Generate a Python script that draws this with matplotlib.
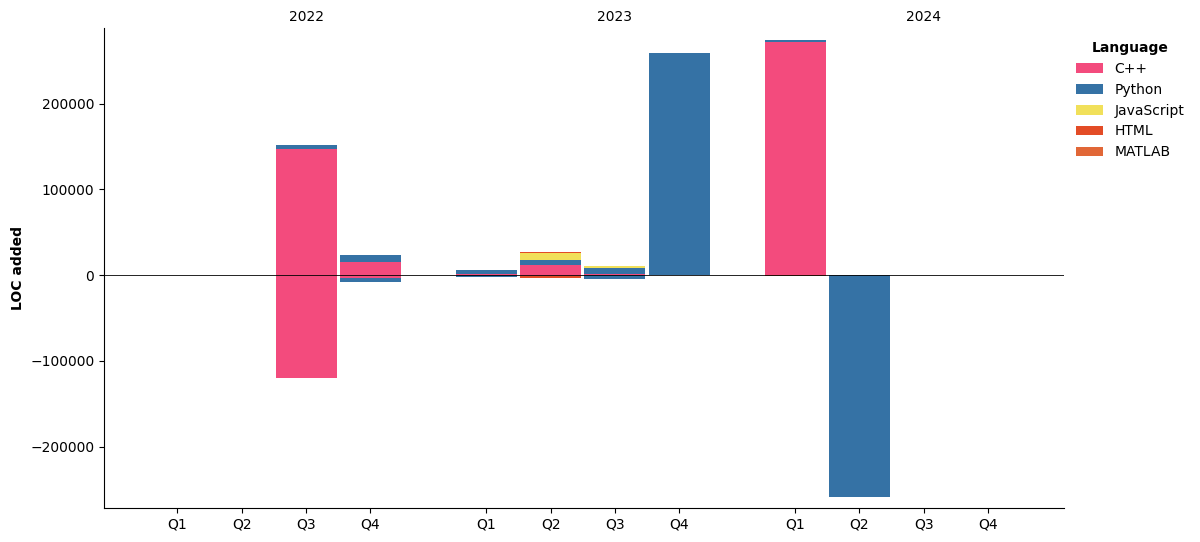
import matplotlib
matplotlib.use("Agg")
import matplotlib.pyplot as plt
import numpy as np

years = ["2022", "2023", "2024"]
quarters = ["Q1", "Q2", "Q3", "Q4"]
languages = ["C++", "Python", "JavaScript", "HTML", "MATLAB"]
colors = ["#f34b7d", "#3572A5", "#f1e05a", "#e34c26", "#e16737"]

# order: 2022 Q1..Q4, 2023 Q1..Q4, 2024 Q1..Q4
added = {
    "C++":        [0, 0, 146900, 15500, 1200, 11700, 1200, 0, 271600, 0, 0, 0],
    "Python":     [0, 0, 4700, 7800, 4700, 5800, 7400, 258700, 2300, 0, 0, 0],
    "JavaScript": [0, 0, 0, 0, 0, 8200, 1800, 0, 0, 0, 0, 0],
    "HTML":       [0, 0, 0, 0, 0, 1100, 0, 0, 0, 0, 0, 0],
    "MATLAB":     [0, 0, 0, 0, 0, 0, 0, 0, 0, 0, 0, 0],
}
removed = {
    "C++":        [0, 0, -120000, -3900, 0, -1500, 0, 0, 0, 0, 0, 0],
    "Python":     [0, 0, 0, -3900, -2000, 0, -4000, 0, 0, -258700, 0, 0],
    "JavaScript": [0, 0, 0, 0, 0, 0, 0, 0, 0, 0, 0, 0],
    "HTML":       [0, 0, 0, 0, 0, -1500, 0, 0, -1500, 0, 0, 0],
    "MATLAB":     [0, 0, 0, 0, 0, 0, 0, 0, 0, 0, 0, 0],
}

group_stride = 4.8
x = np.array([g * group_stride + q for g in range(len(years)) for q in range(len(quarters))])
width = 0.95

fig = plt.figure(figsize=(12, 5.42), dpi=100)
ax = fig.add_axes([0.0867, 0.0627, 0.8, 0.8853])

pos_bottom = np.zeros(len(x))
neg_bottom = np.zeros(len(x))
for lang, col in zip(languages, colors):
    a = np.array(added[lang], dtype=float)
    r = np.array(removed[lang], dtype=float)
    ax.bar(x, a, width, bottom=pos_bottom, color=col, label=lang)
    ax.bar(x, r, width, bottom=neg_bottom, color=col)
    pos_bottom += a
    neg_bottom += r

ax.axhline(0, color="black", lw=0.6)
ax.set_xticks(x)
ax.set_xticklabels(quarters * len(years))
ax.set_xlim(-1.14, 13.78)
ax.set_ylim(-271700, 288000)
ax.set_yticks([-200000, -100000, 0, 100000, 200000])
ax.set_ylabel("LOC added", fontweight="bold")
ax.spines["top"].set_visible(False)
ax.spines["right"].set_visible(False)

sec = ax.secondary_xaxis("top")
sec.set_xticks([g * group_stride + 2 for g in range(len(years))])
sec.set_xticklabels(years)
sec.tick_params(length=0, pad=3)
sec.spines["top"].set_visible(False)

leg = ax.legend(title="Language", loc="upper left", bbox_to_anchor=(0.999, 1.0),
                frameon=False)
leg.get_title().set_fontweight("bold")

fig.savefig("out.png", dpi=100)
